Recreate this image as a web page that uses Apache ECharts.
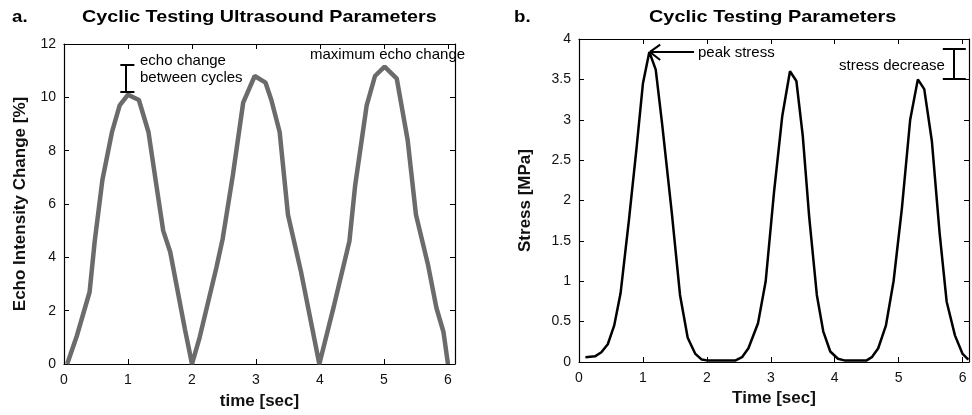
<!DOCTYPE html>
<html>
<head>
<meta charset="utf-8">
<script src="https://cdn.jsdelivr.net/npm/echarts@6/dist/echarts.min.js"></script>
<style>
  html, body { margin: 0; padding: 0; background: #fff; }
  #chart { width: 972px; height: 415px; }
</style>
</head>
<body>
<div id="chart"></div>
<script>
// panel a: echo intensity change over time
const echoTime = [0.05, 0.2, 0.4, 0.48, 0.6, 0.75, 0.87, 1.0, 1.17, 1.32, 1.45, 1.55, 1.66, 1.89, 2.0,
  2.12, 2.38, 2.48, 2.64, 2.8, 2.98, 3.15, 3.24, 3.37, 3.5, 3.7, 3.99,
  4.22, 4.46, 4.55, 4.73, 4.86, 5.01, 5.2, 5.37, 5.5, 5.69, 5.82, 5.93, 6.0];
const echoChange = [0, 1.05, 2.7, 4.6, 6.9, 8.7, 9.7, 10.1, 9.9, 8.7, 6.6, 5.0, 4.2, 1.3, 0,
  1.0, 3.6, 4.7, 7.1, 9.8, 10.8, 10.55, 9.9, 8.7, 5.6, 3.5, 0,
  2.2, 4.6, 6.7, 9.7, 10.8, 11.15, 10.7, 8.4, 5.6, 3.7, 2.1, 1.2, 0];

// panel b: stress over time
const stressTime = [0.1, 0.25, 0.35, 0.45, 0.55, 0.65, 0.78, 0.9, 1.0, 1.1, 1.2, 1.3, 1.45, 1.58, 1.7, 1.82, 1.92, 2.0,
  2.45, 2.55, 2.65, 2.8, 2.92, 3.05, 3.18, 3.3, 3.4, 3.5, 3.6, 3.72, 3.82, 3.93, 4.05, 4.15,
  4.5, 4.58, 4.68, 4.8, 4.92, 5.05, 5.18, 5.3, 5.4, 5.52, 5.64, 5.75, 5.88, 6.0, 6.09];
const stressMPa = [0.06, 0.07, 0.12, 0.22, 0.45, 0.85, 1.75, 2.65, 3.45, 3.84, 3.62, 2.95, 1.86, 0.83, 0.3, 0.1, 0.03, 0.02,
  0.02, 0.06, 0.17, 0.48, 1.0, 2.1, 3.05, 3.6, 3.48, 2.8, 1.8, 0.83, 0.38, 0.13, 0.04, 0.02,
  0.02, 0.06, 0.17, 0.45, 1.0, 1.9, 3.0, 3.5, 3.38, 2.73, 1.6, 0.75, 0.33, 0.1, 0.03];

const FONT = 'Arial, "Liberation Sans", sans-serif';

const chart = echarts.init(document.getElementById('chart'), null, { renderer: 'canvas' });

function intLabel(v) {
  return Math.abs(v - Math.round(v)) < 1e-6 ? String(Math.round(v)) : '';
}

function xAxisPair(gridIndex, max, name, nameGap) {
  const common = {
    type: 'value', gridIndex: gridIndex, min: 0, max: max, interval: 1,
    axisLine: { show: true, onZero: false, lineStyle: { color: '#000', width: 1.2 } },
    axisTick: { show: true, inside: true, length: 5, lineStyle: { color: '#000' } },
    splitLine: { show: false },
  };
  return [
    Object.assign({}, common, {
      position: 'bottom',
      name: name, nameLocation: 'middle', nameGap: nameGap,
      nameTextStyle: { fontFamily: FONT, fontSize: 17, fontWeight: 'bold', color: '#111' },
      axisLabel: { margin: 9, fontFamily: FONT, fontSize: 14, color: '#111', formatter: intLabel },
    }),
    Object.assign({}, common, { position: 'top', axisLabel: { show: false } }),
  ];
}

function yAxisPair(gridIndex, max, interval, name, nameGap) {
  const common = {
    type: 'value', gridIndex: gridIndex, min: 0, max: max, interval: interval,
    axisLine: { show: true, onZero: false, lineStyle: { color: '#000', width: 1.2 } },
    axisTick: { show: true, inside: true, length: 5, lineStyle: { color: '#000' } },
    splitLine: { show: false },
  };
  return [
    Object.assign({}, common, {
      position: 'left',
      name: name, nameLocation: 'middle', nameGap: nameGap, nameRotate: 90,
      nameTextStyle: { fontFamily: FONT, fontSize: 17, fontWeight: 'bold', color: '#111' },
      axisLabel: { margin: 8, fontFamily: FONT, fontSize: 14, color: '#111' },
    }),
    Object.assign({}, common, { position: 'right', axisLabel: { show: false } }),
  ];
}

function seg(x1, y1, x2, y2) {
  return [{ coord: [x1, y1] }, { coord: [x2, y2] }];
}

function label(x, y, text, font, sx) {
  return { type: 'text', x: x, y: y, scaleX: sx || 1, style: { text: text, font: font + ' ' + FONT, fill: '#000', lineHeight: 17 } };
}

const option = {
  backgroundColor: '#fff',
  animation: false,
  grid: [
    { left: 64, top: 44, width: 391, height: 323 },
    { left: 579, top: 39, width: 390, height: 323 },
  ],
  xAxis: [].concat(
    xAxisPair(0, 6.11, 'time [sec]', 29),
    xAxisPair(1, 6.1, 'Time [sec]', 27)
  ),
  yAxis: [].concat(
    yAxisPair(0, 12, 2, 'Echo Intensity Change [%]', 35),
    yAxisPair(1, 4, 0.5, 'Stress [MPa]', 45)
  ),
  graphic: [
    label(12, 9, 'a.', 'bold 17px', 1.1),
    label(82, 9, 'Cyclic Testing Ultrasound Parameters', 'bold 17px', 1.16),
    label(514, 9, 'b.', 'bold 17px', 1.1),
    label(649, 9, 'Cyclic Testing Parameters', 'bold 17px', 1.17),
    label(140, 52, 'echo change\nbetween cycles', '15px'),
    label(310, 46, 'maximum echo change', '15px'),
    label(698, 44, 'peak stress', '15px'),
    label(839, 57, 'stress decrease', '15px'),
  ],
  series: [
    {
      name: 'echo', type: 'line', xAxisIndex: 0, yAxisIndex: 0,
      data: echoTime.map((t, i) => [t, echoChange[i]]),
      showSymbol: false, smooth: false, clip: false,
      lineStyle: { color: '#6b6b6b', width: 4.5 },
      markLine: {
        silent: true, symbol: 'none', label: { show: false },
        lineStyle: { color: '#000', width: 2, type: 'solid' },
        data: [
          seg(0.97, 10.2, 0.97, 11.22),
          seg(0.88, 10.2, 1.1, 10.2),
          seg(0.88, 11.22, 1.1, 11.22),
        ],
      },
    },
    {
      name: 'stress', type: 'line', xAxisIndex: 2, yAxisIndex: 2,
      data: stressTime.map((t, i) => [t, stressMPa[i]]),
      showSymbol: false, smooth: false, clip: false,
      lineStyle: { color: '#000', width: 2.5 },
      markLine: {
        silent: true, symbol: 'none', label: { show: false },
        lineStyle: { color: '#000', width: 2, type: 'solid' },
        data: [
          seg(1.8, 3.84, 1.11, 3.84),
          seg(1.11, 3.84, 1.27, 3.93),
          seg(1.11, 3.84, 1.27, 3.74),
          seg(5.86, 3.505, 5.86, 3.876),
          seg(5.69, 3.505, 6.05, 3.505),
          seg(5.69, 3.876, 6.05, 3.876),
        ],
      },
    },
  ],
};

chart.setOption(option);
</script>
</body>
</html>
